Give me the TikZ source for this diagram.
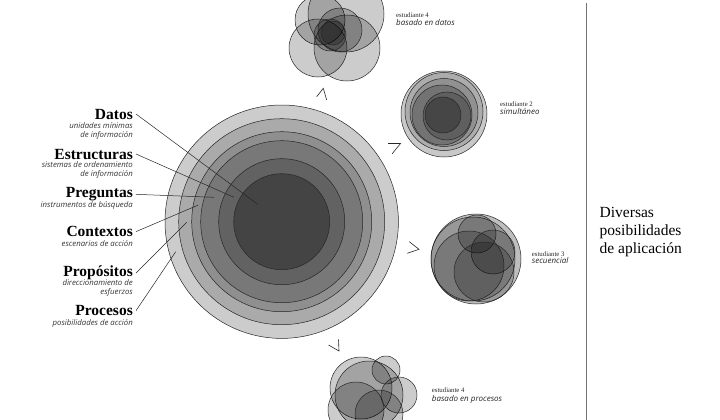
\documentclass[tikz,border=0pt]{standalone}
\usepackage{fontspec}
\setmainfont{Liberation Serif}
\newfontfamily\subfont{Open Sans}
\definecolor{m1}{RGB}{204,204,204}
\definecolor{m2}{RGB}{170,170,170}
\definecolor{m3}{RGB}{143,143,143}
\definecolor{m4}{RGB}{120,120,120}
\definecolor{m5}{RGB}{98,98,98}
\definecolor{m6}{RGB}{68,68,68}
\definecolor{r1}{RGB}{200,200,200}
\definecolor{r2}{RGB}{172,172,172}
\definecolor{r3}{RGB}{145,145,145}
\definecolor{r4}{RGB}{115,115,115}
\definecolor{r5}{RGB}{95,95,95}
\definecolor{r6}{RGB}{70,70,70}
\definecolor{s1}{RGB}{190,190,190}
\begin{document}
\begin{tikzpicture}[x=1pt,y=-1pt,
  ring/.style={draw=black!85,line width=0.5pt},
  blob/.style={draw=black!85,line width=0.5pt,fill=black,fill opacity=0.2},
  title/.style={font=\bfseries\fontsize{15.5}{16}\selectfont,inner xsep=3pt,inner ysep=0pt,anchor=base east},
  sub/.style={font=\subfont\itshape\fontsize{7.8}{8.5}\selectfont,text=black!80,inner sep=0pt,anchor=base east},
  lead/.style={draw=black!85,line width=0.5pt},
  chev/.style={draw=black!85,line width=0.6pt},
  stu/.style={font=\fontsize{6.8}{8}\selectfont,text=black!85,inner sep=0pt,anchor=base west},
  stusub/.style={font=\subfont\itshape\fontsize{8}{8}\selectfont,text=black!85,inner sep=0pt,anchor=base west},
]
\useasboundingbox (0,0) rectangle (720,420);

% main concentric circles
\coordinate (M) at (281.7,221.7);
\draw[ring,fill=m1] (M) circle (116.7);
\draw[ring,fill=m2] (M) circle (103);
\draw[ring,fill=m3] (M) circle (90);
\draw[ring,fill=m4] (M) circle (81);
\draw[ring,fill=m5] (M) circle (63);
\draw[ring,fill=m6] (M) circle (48);

% label titles
\node[title] (tD) at (136,119) {Datos};
\node[sub] (sD1) at (133,128.5) {unidades mínimas};
\node[sub] (sD2) at (133,137) {de información};
\node[title] (tE) at (136,159) {Estructuras};
\node[sub] (sE1) at (133,167.5) {sistemas de ordenamiento};
\node[sub] (sE2) at (133,176) {de información};
\node[title] (tP) at (136,197.7) {Preguntas};
\node[sub] (sP1) at (133,207) {instrumentos de búsqueda};
\node[title] (tC) at (136,236.7) {Contextos};
\node[sub] (sC1) at (133,246) {escenarios de acción};
\node[title] (tR) at (136,276.7) {Propósitos};
\node[sub] (sR1) at (133,285) {direccionamiento de};
\node[sub] (sR2) at (133,294) {esfuerzos};
\node[title] (tO) at (136,315.7) {Procesos};
\node[sub] (sO1) at (133,325) {posibilidades de acción};

% leader end points
\coordinate (pD) at (257.7,204.3);
\coordinate (pE) at (234,197.3);
\coordinate (pP) at (214,197.3);
\coordinate (pC) at (198.3,205);
\coordinate (pR) at (186.7,222.3);
\coordinate (pO) at (175.7,251.7);
\draw[lead] (tD.east) -- (pD);
\draw[lead] (tE.east) -- (pE);
\draw[lead] (tP.east) -- (pP);
\draw[lead] (tC.east) -- (pC);
\draw[lead] (tR.east) -- (pR);
\draw[lead] (tO.east) -- (pO);

% top cluster
\draw[blob] (320,20) circle (25);
\draw[blob] (346,14) circle (38);
\draw[blob] (318,48) circle (29);
\draw[blob] (347,48) circle (33);
\draw[blob] (340,30) circle (22);
\draw[blob] (330,35) circle (16);
\draw[blob] (333,33) circle (12);
\node[stu] (e1) at (396,17.5) {estudiante 4};
\node[stusub] (e1s) at (396,26) {basado en datos};

% right top cluster
\draw[ring,fill=r1] (444,114) circle (43);
\draw[ring,fill=r2] (444,111.5) circle (39);
\draw[ring,fill=r3] (444,112.5) circle (34);
\draw[ring,fill=r4] (442,115) circle (30);
\draw[ring,fill=r5] (447,116) circle (24);
\draw[ring,fill=r6] (443,115) circle (18);
\node[stu] (e2) at (500,106) {estudiante 2};
\node[stusub] (e2s) at (500,114) {simultáneo};

% right middle cluster
\draw[ring,fill=s1] (476,259) circle (45);
\draw[blob] (473,259) circle (42);
\draw[blob] (477,234) circle (19);
\draw[blob] (493,252) circle (22);
\draw[blob] (469,266) circle (35);
\draw[blob] (484,272) circle (30);
\node[stu] (e3) at (531.7,256) {estudiante 3};
\node[stusub] (e3s) at (531.7,263.5) {secuencial};

% bottom cluster
\draw[blob] (361,388) circle (31);
\draw[blob] (369,395) circle (34);
\draw[blob] (386,370) circle (14);
\draw[blob] (399,395) circle (18);
\draw[blob] (356,410) circle (28);
\draw[blob] (379,414) circle (24);
\node[stu] (e4) at (431.7,392) {estudiante 4};
\node[stusub] (e4s) at (431.7,401) {basado en procesos};

% chevrons
\draw[chev] (316.7,96.7) -- (323.3,88.3) -- (326.7,100);
\draw[chev] (388,143.5) -- (400.5,143.5) -- (392,154);
\draw[chev] (409.3,241.7) -- (419,249.3) -- (407.3,253.3);
\draw[chev] (328.5,345) -- (339,351) -- (338.5,339.5);

% divider and right text
\draw[draw=black!55,line width=0.8pt] (586.5,3) -- (586.5,420);
\node[font=\fontsize{15.5}{18}\selectfont,align=left,anchor=north west,inner sep=0pt] (dv) at (599.5,207)
  {Diversas\\posibilidades\\de aplicación};
\end{tikzpicture}
\end{document}
